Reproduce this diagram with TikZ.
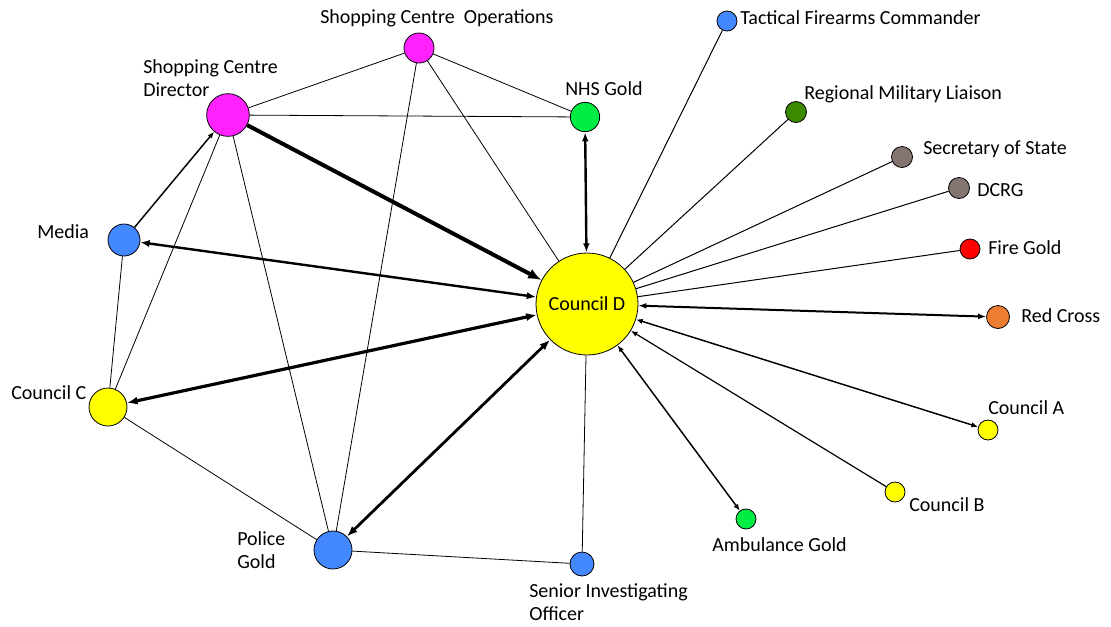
\documentclass[tikz,border=0pt]{standalone}
\usepackage{fontspec}
\setmainfont{Carlito}
\usetikzlibrary{arrows.meta}
\definecolor{shopmag}{RGB}{255,34,255}
\definecolor{polblue}{RGB}{68,136,255}
\definecolor{medgreen}{RGB}{0,238,68}
\definecolor{cyellow}{RGB}{255,255,0}
\definecolor{milgreen}{RGB}{58,138,0}
\definecolor{govbrown}{RGB}{133,117,112}
\definecolor{firered}{RGB}{255,0,0}
\definecolor{rcorange}{RGB}{237,125,49}
\begin{document}
\begin{tikzpicture}[x=0.75pt,y=-0.75pt,
  actor/.style={circle,draw=black,line width=0.6pt,inner sep=0pt,minimum size=#1},
  lbl/.style={anchor=west,inner sep=0pt,font=\fontsize{15}{17.5}\selectfont,align=left},
  thinlink/.style={line width=0.6pt},
  radlink/.style={line width=0.75pt},
  midlink/.style={line width=1.1pt},
  hd/.style={Latex[length=6pt,width=4.5pt]},
  bighd/.style={Latex[length=8pt,width=6pt]}
]
\useasboundingbox (0,0) rectangle (1111,626);

% actors
\node[actor=76.5pt,fill=cyellow] (cd) at (587,304) {\fontsize{15}{17.5}\selectfont Council D};
\node[actor=22.5pt,fill=shopmag] (sco) at (419,48) {};
\node[actor=32pt,fill=shopmag] (scd) at (228,115) {};
\node[actor=22pt,fill=medgreen] (nhs) at (585,117) {};
\node[actor=24pt,fill=polblue] (media) at (124,240) {};
\node[actor=28.5pt,fill=cyellow] (cc) at (108,407) {};
\node[actor=28.5pt,fill=polblue] (pg) at (333,550) {};
\node[actor=18pt,fill=polblue] (sio) at (582,564) {};
\node[actor=15pt,fill=polblue] (tfc) at (727,21) {};
\node[actor=15.75pt,fill=milgreen] (rml) at (796,112) {};
\node[actor=15.75pt,fill=govbrown] (sos) at (902,157) {};
\node[actor=15.75pt,fill=govbrown] (dcrg) at (959,188) {};
\node[actor=15pt,fill=firered] (fire) at (970,249) {};
\node[actor=17.25pt,fill=rcorange] (rc) at (998,317) {};
\node[actor=15pt,fill=cyellow] (ca) at (988,430) {};
\node[actor=15pt,fill=cyellow] (cb) at (895,492) {};
\node[actor=15pt,fill=medgreen] (amb) at (746,519) {};

% labels
\node[lbl] (l-sco) at (320,18) {Shopping Centre \ Operations};
\node[lbl] (l-scd) at (143,78) {Shopping Centre\\Director};
\node[lbl] (l-nhs) at (565,89) {NHS Gold};
\node[lbl] (l-media) at (37,232) {Media};
\node[lbl] (l-cc) at (11,393) {Council C};
\node[lbl] (l-pg) at (237,550) {Police\\Gold};
\node[lbl] (l-sio) at (529,602) {Senior Investigating\\Officer};
\node[lbl] (l-tfc) at (740,18) {Tactical Firearms Commander};
\node[lbl] (l-rml) at (804,94) {Regional Military Liaison};
\node[lbl] (l-sos) at (923,149) {Secretary of State};
\node[lbl] (l-dcrg) at (977,190) {DCRG};
\node[lbl] (l-fire) at (988,248) {Fire Gold};
\node[lbl] (l-rc) at (1021,316) {Red Cross};
\node[lbl] (l-ca) at (988,408) {Council A};
\node[lbl] (l-cb) at (909,505) {Council B};
\node[lbl] (l-amb) at (712,545) {Ambulance Gold};

% weak ties
\draw[thinlink] (scd) -- (sco);
\draw[thinlink] (scd) -- (nhs);
\draw[thinlink] (sco) -- (nhs);
\draw[thinlink] (sco) -- (cd);
\draw[thinlink] (sco) -- (pg);
\draw[thinlink] (scd) -- (cc);
\draw[thinlink] (scd) -- (pg);
\draw[thinlink] (media) -- (cc);
\draw[thinlink] (cc) -- (pg);
\draw[thinlink] (pg) -- (sio);
\draw[thinlink] (sio) -- (cd);

% one-way ties to Council D
\draw[radlink] (cd) -- (tfc);
\draw[radlink] (cd) -- (rml);
\draw[radlink] (cd) -- (sos);
\draw[radlink] (cd) -- (dcrg);
\draw[radlink] (cd) -- (fire);

% directed and reciprocal ties
\draw[line width=3pt,-{Latex[length=10pt,width=8pt]}] (scd) -- (cd);
\draw[midlink,-{Latex[length=5pt,width=4pt]}] (media) -- (scd);
\draw[line width=1.8pt,{Latex[length=7pt,width=5.5pt]}-{Latex[length=7pt,width=5.5pt]}] (media) -- (cd);
\draw[line width=2.4pt,{Latex[length=8pt,width=6pt]}-{Latex[length=8pt,width=6pt]}] (cc) -- (cd);
\draw[line width=2.1pt,{Latex[length=8pt,width=6pt]}-{Latex[length=8pt,width=6pt]}] (pg) -- (cd);
\draw[line width=1.8pt,{Latex[length=7pt,width=5pt]}-{Latex[length=7pt,width=5pt]}] (nhs) -- (cd);
\draw[line width=1.5pt,{Latex[length=6pt,width=4.5pt]}-{Latex[length=6pt,width=4.5pt]}] (rc) -- (cd);
\draw[midlink,{Latex[length=5pt,width=4pt]}-{Latex[length=5pt,width=4pt]}] (ca) -- (cd);
\draw[line width=0.9pt,-{Latex[length=5pt,width=4pt]}] (cb) -- (cd);
\draw[midlink,{Latex[length=5pt,width=4pt]}-{Latex[length=5pt,width=4pt]}] (amb) -- (cd);
\end{tikzpicture}
\end{document}
